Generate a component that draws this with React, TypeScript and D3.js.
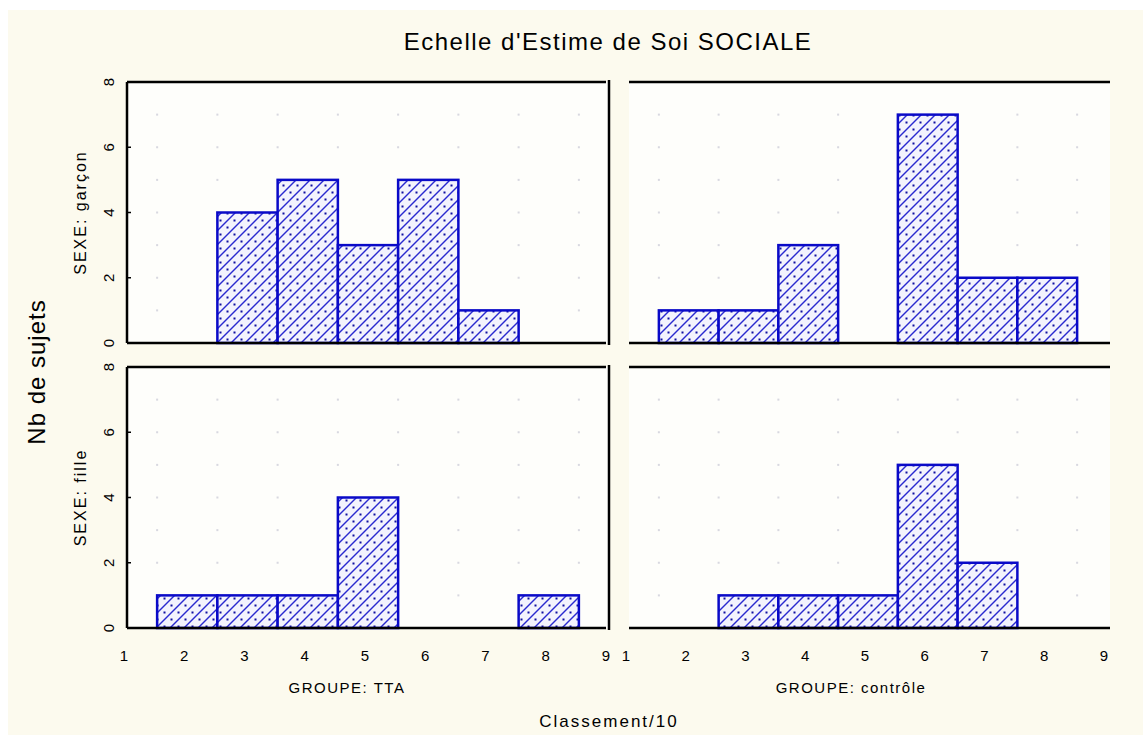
import React from "react";
import * as d3 from "d3";

const title = "Echelle d'Estime de Soi SOCIALE";
const yTitle = "Nb de sujets";
const xTitle = "Classement/10";
const rowLabels = ["SEXE: garçon", "SEXE: fille"];
const colLabels = ["GROUPE: TTA", "GROUPE: contrôle"];
const xTicks = [1, 2, 3, 4, 5, 6, 7, 8, 9];
const yTicks = [0, 2, 4, 6, 8];

// classes (x values) and counts for each panel
const garconTTA_x = [3, 4, 5, 6, 7];
const garconTTA_n = [4, 5, 3, 5, 1];
const garconCtrl_x = [2, 3, 4, 6, 7, 8];
const garconCtrl_n = [1, 1, 3, 7, 2, 2];
const filleTTA_x = [2, 3, 4, 5, 8];
const filleTTA_n = [1, 1, 1, 4, 1];
const filleCtrl_x = [3, 4, 5, 6, 7];
const filleCtrl_n = [1, 1, 1, 5, 2];

const W = 1143;
const H = 735;
const BLUE = "#0a0ac8";

export default function App() {
  const colRanges: [number, number][] = [
    [127, 609],
    [629, 1107],
  ];
  const rowRanges: [number, number][] = [
    [343, 82],
    [628, 367],
  ];
  const xScales = colRanges.map((r) => d3.scaleLinear().domain([1, 9]).range(r));
  const yScales = rowRanges.map((r) => d3.scaleLinear().domain([0, 8]).range(r));

  const panels = [
    { r: 0, c: 0, xs: garconTTA_x, ns: garconTTA_n },
    { r: 0, c: 1, xs: garconCtrl_x, ns: garconCtrl_n },
    { r: 1, c: 0, xs: filleTTA_x, ns: filleTTA_n },
    { r: 1, c: 1, xs: filleCtrl_x, ns: filleCtrl_n },
  ];

  const font = "'Liberation Sans', Arial, sans-serif";
  const gridX = d3.range(1.5, 9, 1);
  const gridY = d3.range(1, 8, 1);

  return (
    <svg
      width={W}
      height={H}
      style={{ position: "absolute", left: 0, top: 0 }}
      fontFamily={font}
    >
      <defs>
        <pattern id="hatch" patternUnits="userSpaceOnUse" width="14" height="14">
          <rect width="14" height="14" fill="#f3f3fd" />
          <line x1="0" y1="14" x2="14" y2="0" stroke="#2a2ad0" strokeWidth="1.4" />
          <line x1="-7" y1="7" x2="7" y2="-7" stroke="#2a2ad0" strokeWidth="1.4" />
          <line x1="7" y1="21" x2="21" y2="7" stroke="#2a2ad0" strokeWidth="1.4" />
          <rect x="9.5" y="9.5" width="2" height="2" fill="#1010a0" />
          <rect x="2.5" y="2.5" width="2" height="2" fill="#1010a0" />
        </pattern>
      </defs>
      <rect width={W} height={H} fill="#ffffff" />
      <rect x={8} y={10} width={W - 8} height={H - 10} fill="#fcfaee" />

      {/* plot area backgrounds */}
      {panels.map((p, i) => {
        const xs = xScales[p.c];
        const ys = yScales[p.r];
        return (
          <rect
            key={"bg" + i}
            x={xs(1)}
            y={ys(8)}
            width={xs(9) - xs(1) + (p.c === 1 ? 3 : 0)}
            height={ys(0) - ys(8)}
            fill="#fefefb"
          />
        );
      })}

      {/* grid dots */}
      {panels.map((p, i) => {
        const xs = xScales[p.c];
        const ys = yScales[p.r];
        const dots: JSX.Element[] = [];
        gridX.forEach((gx) =>
          gridY.forEach((gy) =>
            dots.push(
              <rect
                key={`d${i}-${gx}-${gy}`}
                x={xs(gx) - 1}
                y={ys(gy) - 1}
                width={2}
                height={2}
                fill="#d8d8e0"
              />
            )
          )
        );
        return <g key={"g" + i}>{dots}</g>;
      })}

      {/* bars */}
      {panels.map((p, i) => {
        const xs = xScales[p.c];
        const ys = yScales[p.r];
        return (
          <g key={"b" + i}>
            {p.xs.map((xv, j) => (
              <rect
                key={j}
                x={xs(xv - 0.5)}
                y={ys(p.ns[j])}
                width={xs(xv + 0.5) - xs(xv - 0.5)}
                height={ys(0) - ys(p.ns[j])}
                fill="url(#hatch)"
                stroke={BLUE}
                strokeWidth={2.5}
              />
            ))}
          </g>
        );
      })}

      {/* frames */}
      {rowRanges.map((rr, r) => {
        const ys = yScales[r];
        const x0 = xScales[0];
        const x1 = xScales[1];
        return (
          <g key={"f" + r} stroke="#000" strokeWidth={2.5} fill="none">
            <line x1={x0(1)} x2={x0(9) - 3} y1={ys(8)} y2={ys(8)} />
            <line x1={x0(1)} x2={x0(9) - 3} y1={ys(0)} y2={ys(0)} />
            <line x1={x0(1)} x2={x0(1)} y1={ys(8)} y2={ys(0)} />
            <line x1={x0(9)} x2={x0(9)} y1={ys(8) - 2} y2={ys(0) + 2} />
            <line x1={x1(1)} x2={x1(9) + 3} y1={ys(8)} y2={ys(8)} />
            <line x1={x1(1)} x2={x1(9) + 3} y1={ys(0)} y2={ys(0)} />
          </g>
        );
      })}

      {/* y ticks and labels (rotated) */}
      {rowRanges.map((rr, r) => {
        const ys = yScales[r];
        return (
          <g key={"yt" + r}>
            {yTicks.map((t) => (
              <g key={t}>
                <line
                  x1={127}
                  x2={131}
                  y1={ys(t)}
                  y2={ys(t)}
                  stroke="#000"
                  strokeWidth={1.5}
                />
                <text
                  transform={`translate(114,${ys(t)}) rotate(-90)`}
                  textAnchor="middle"
                  fontSize={15}
                  fill="#000"
                >
                  {t}
                </text>
              </g>
            ))}
          </g>
        );
      })}

      {/* x tick labels */}
      {xScales.map((xs, c) => (
        <g key={"xt" + c}>
          {xTicks.map((t) => (
            <text
              key={t}
              x={xs(t) - 3}
              y={661}
              textAnchor="middle"
              fontSize={15}
              fill="#000"
            >
              {t}
            </text>
          ))}
        </g>
      ))}

      {/* column labels */}
      <text x={347} y={693} textAnchor="middle" fontSize={15} letterSpacing={1.5} fill="#000">
        {colLabels[0]}
      </text>
      <text x={851} y={693} textAnchor="middle" fontSize={15} letterSpacing={1.5} fill="#000">
        {colLabels[1]}
      </text>

      {/* row labels */}
      <text
        transform={`translate(86,${yScales[0](4)}) rotate(-90)`}
        textAnchor="middle"
        fontSize={16}
        letterSpacing={2}
        fill="#000"
      >
        {rowLabels[0]}
      </text>
      <text
        transform={`translate(86,${yScales[1](4)}) rotate(-90)`}
        textAnchor="middle"
        fontSize={16}
        letterSpacing={2}
        fill="#000"
      >
        {rowLabels[1]}
      </text>

      {/* axis titles */}
      <text
        transform={`translate(45,372) rotate(-90)`}
        textAnchor="middle"
        fontSize={24}
        letterSpacing={1}
        fill="#000"
      >
        {yTitle}
      </text>
      <text x={609} y={727} textAnchor="middle" fontSize={17} letterSpacing={2} fill="#000">
        {xTitle}
      </text>
      <text x={608} y={50} textAnchor="middle" fontSize={24} letterSpacing={1.5} fill="#000">
        {title}
      </text>
    </svg>
  );
}
